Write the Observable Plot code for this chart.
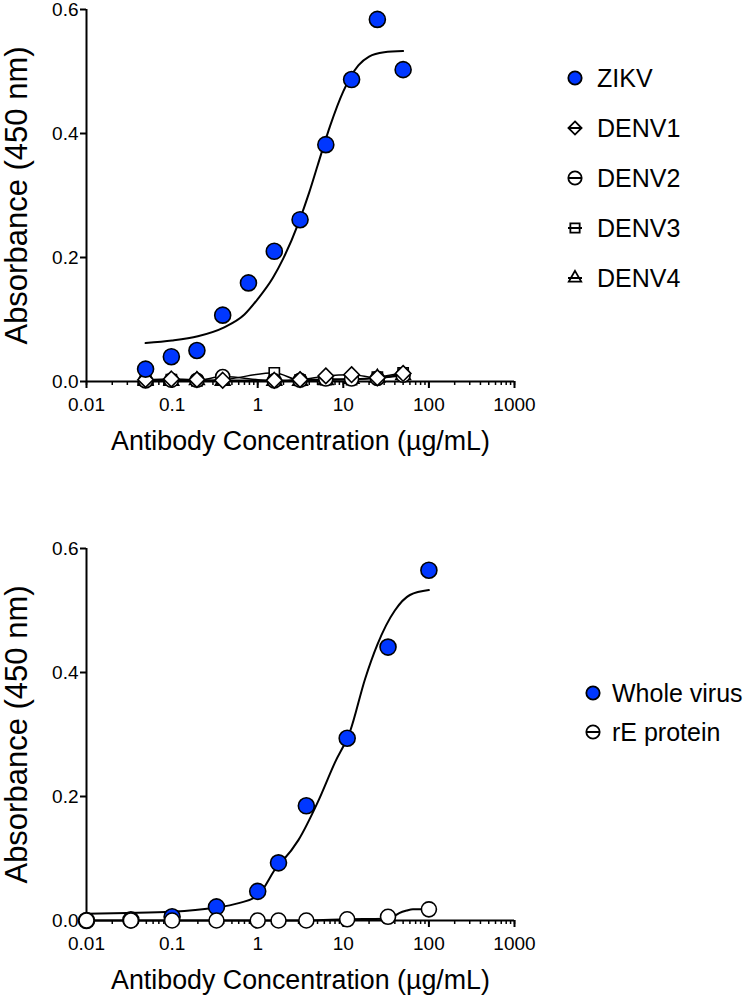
<!DOCTYPE html>
<html><head><meta charset="utf-8">
<script src="https://cdn.jsdelivr.net/npm/d3@7"></script>
<script src="https://cdn.jsdelivr.net/npm/@observablehq/plot@0.6"></script>
<style>
body{margin:0;background:#fff;}
#wrap{position:relative;width:746px;height:1002px;font-family:"Liberation Sans",Arial,sans-serif;}
#wrap svg{position:absolute;left:0;overflow:visible}
</style></head><body><div id="wrap"></div>
<script>
// ---------- data ----------
const xDomain = [0.01, 1000];
const yDomain = [0, 0.6];
const xTickValues = [0.01, 0.1, 1, 10, 100, 1000];
const xTickLabels = ["0.01", "0.1", "1", "10", "100", "1000"];
const yTickValues = [0, 0.2, 0.4, 0.6];
const yTitle = "Absorbance (450 nm)";
const xTitle = "Antibody Concentration (µg/mL)";

// top panel
const zikvConc = [0.049, 0.098, 0.195, 0.39, 0.78, 1.5625, 3.125, 6.25, 12.5, 25, 50];
const zikvAbs  = [0.020, 0.040, 0.050, 0.107, 0.159, 0.210, 0.261, 0.382, 0.487, 0.584, 0.503];
const zikvFitConc = [0.049, 0.1, 0.2, 0.4, 0.7, 1, 1.5, 2, 3, 4, 5, 7, 10, 15, 20, 30, 50];
const zikvFitAbs  = [0.062, 0.066, 0.073, 0.087, 0.108, 0.133, 0.167, 0.199, 0.256, 0.305, 0.348, 0.412, 0.468, 0.510, 0.524, 0.531, 0.533];
const denvConc = [0.049, 0.098, 0.195, 0.39, 1.5625, 3.125, 6.25, 12.5, 25, 50];
const denv1Abs = [0.003, 0.004, 0.003, 0.002, 0.002, 0.003, 0.009, 0.011, 0.006, 0.013];
const denv2Abs = [0.001, 0.002, 0.002, 0.008, 0.001, 0.002, 0.004, 0.004, 0.005, 0.010];
const denv3Abs = [0.002, 0.003, 0.001, 0.003, 0.014, 0.002, 0.003, 0.003, 0.007, 0.014];
const denv4Abs = [0.001, 0.001, 0.002, 0.001, 0.001, 0.001, 0.002, 0.004, 0.006, 0.010];
const topLegend = ["ZIKV", "DENV1", "DENV2", "DENV3", "DENV4"];

// bottom panel
const wholeConc = [0.01, 0.033, 0.1, 0.33, 1, 1.75, 3.7, 11.1, 33.3, 100];
const wholeAbs  = [0.000, 0.001, 0.006, 0.022, 0.047, 0.093, 0.185, 0.294, 0.441, 0.565];
const wholeFitConc = [0.01, 0.03, 0.1, 0.3, 0.6, 1, 1.75, 2, 3, 5, 8, 12, 18, 25, 40, 60, 100];
const wholeFitAbs  = [0.011, 0.012, 0.014, 0.020, 0.028, 0.040, 0.090, 0.098, 0.130, 0.190, 0.255, 0.305, 0.390, 0.445, 0.500, 0.525, 0.533];
const rEConc = [0.01, 0.033, 0.1, 0.33, 1, 1.75, 3.7, 11.1, 33.3, 100];
const rEAbs  = [0.000, 0.000, 0.000, 0.000, 0.000, 0.000, 0.000, 0.002, 0.006, 0.018];
const rEFitConc = [0.01, 3.7, 11.1, 30, 38, 45, 55, 65, 100];
const rEFitAbs  = [0.000, 0.000, 0.002, 0.003, 0.006, 0.012, 0.016, 0.018, 0.018];
const bottomLegend = ["Whole virus", "rE protein"];

const blue = "#0037ff";
const font = "Liberation Sans, Arial, sans-serif";

const rows = (xs, ys) => xs.map((x, i) => ({x, y: ys[i]}));

function axes() {
  return [
    Plot.ruleX([xDomain[0]], {y1: yDomain[0], y2: yDomain[1], strokeWidth: 2}),
    Plot.ruleY([0], {x1: xDomain[0], x2: xDomain[1], strokeWidth: 2}),
    Plot.axisY({ticks: yTickValues, tickFormat: d3.format(".1f"), tickSize: 6, tickPadding: 2, strokeWidth: 2, fontSize: 19, label: null}),
    Plot.axisX({ticks: 50, tickFormat: () => "", tickSize: 4, strokeWidth: 1.5, label: null}),
    Plot.axisX({ticks: xTickValues, tickFormat: (d) => xTickLabels[xTickValues.indexOf(d)], tickSize: 7, tickPadding: 9, strokeWidth: 2, fontSize: 19, label: null}),
    Plot.text([yTitle], {frameAnchor: "left", textAnchor: "middle", lineAnchor: "middle", rotate: -90, dx: -69, fontSize: 31}),
    Plot.text([xTitle], {frameAnchor: "bottom", textAnchor: "middle", lineAnchor: "middle", dy: 60, fontSize: 26.8})
  ];
}

function panel(height, marginBottom, marks) {
  return Plot.plot({
    width: 746, height,
    marginLeft: 86, marginRight: 232, marginTop: 9, marginBottom,
    style: {fontFamily: font, color: "black", background: "transparent", overflow: "visible"},
    x: {type: "log", domain: xDomain},
    y: {domain: yDomain},
    marks: [...axes(), ...marks]
  });
}

const dotOpts = {x: "x", y: "y", fill: "white", stroke: "black", strokeWidth: 1.6, r: 7};
const topPanel = panel(539, 158, [
  Plot.line(rows(denvConc, denv4Abs), {x: "x", y: "y", strokeWidth: 1.5, curve: "monotone-x"}),
  Plot.line(rows(denvConc, denv3Abs), {x: "x", y: "y", strokeWidth: 1.5, curve: "monotone-x"}),
  Plot.line(rows(denvConc, denv2Abs), {x: "x", y: "y", strokeWidth: 1.5, curve: "monotone-x"}),
  Plot.line(rows(denvConc, denv1Abs), {x: "x", y: "y", strokeWidth: 1.5, curve: "monotone-x"}),
  Plot.dot(rows(denvConc, denv4Abs), {...dotOpts, symbol: "triangle2"}),
  Plot.dot(rows(denvConc, denv3Abs), {...dotOpts, symbol: "square2", r: 6.5}),
  Plot.dot(rows(denvConc, denv2Abs), {...dotOpts, symbol: "circle"}),
  Plot.dot(rows(denvConc, denv1Abs), {...dotOpts, symbol: "diamond2"}),
  Plot.line(rows(zikvFitConc, zikvFitAbs), {x: "x", y: "y", strokeWidth: 2, curve: "monotone-x"}),
  Plot.dot(rows(zikvConc, zikvAbs), {x: "x", y: "y", fill: blue, stroke: "black", strokeWidth: 1.6, r: 8})
]);
topPanel.style.top = "0px";

const bottomPanel = panel(463, 82, [
  Plot.line(rows(wholeFitConc, wholeFitAbs), {x: "x", y: "y", strokeWidth: 2, curve: "monotone-x"}),
  Plot.dot(rows(wholeConc, wholeAbs), {x: "x", y: "y", fill: blue, stroke: "black", strokeWidth: 1.6, r: 8}),
  Plot.line(rows(rEFitConc, rEFitAbs), {x: "x", y: "y", strokeWidth: 2, curve: "monotone-x"}),
  Plot.dot(rows(rEConc, rEAbs), {...dotOpts, r: 7.5})
]);
bottomPanel.style.top = "539px";

const wrap = document.getElementById("wrap");
wrap.appendChild(topPanel);
wrap.appendChild(bottomPanel);

// legends
const leg = d3.select(wrap).append("svg").attr("width", 746).attr("height", 1002).style("top", "0px");
const symType = {circle: d3.symbolCircle, diamond: d3.symbolDiamond2, square: d3.symbolSquare2, triangle: d3.symbolTriangle2};
function legend(items, shapes, fills, x0, y0, step, tx) {
  items.forEach((name, i) => {
    const g = leg.append("g").attr("transform", `translate(${x0},${y0 + i * step})`);
    if (fills[i] === "white") g.append("line").attr("x1", -7).attr("x2", 7).attr("stroke", "black").attr("stroke-width", 2);
    g.append("path").attr("d", d3.symbol(symType[shapes[i]], shapes[i] === "circle" ? 140 : 110)())
      .attr("fill", fills[i] === "white" ? "none" : fills[i]).attr("stroke", "black").attr("stroke-width", 1.8);
    g.append("text").attr("x", tx).attr("dy", "0.35em").attr("font-size", 25).attr("font-family", font).text(name);
  });
}
legend(topLegend, ["circle", "diamond", "circle", "square", "triangle"], [blue, "white", "white", "white", "white"], 575, 78, 50, 22);
legend(bottomLegend, ["circle", "circle"], [blue, "white"], 593, 693, 39, 19);
</script>
</body></html>
